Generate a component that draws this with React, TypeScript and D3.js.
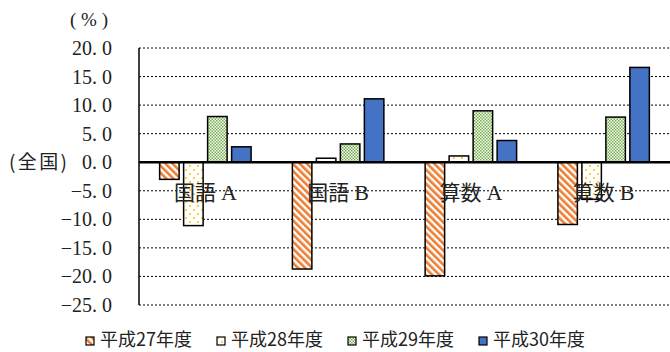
import React from "react";
import * as d3 from "d3";

const categories = ["国語A", "国語B", "算数A", "算数B"];
const seriesNames = ["平成27年度", "平成28年度", "平成29年度", "平成30年度"];
const h27 = [-3.0, -18.7, -19.9, -10.9];
const h28 = [-11.1, 0.7, 1.1, -6.5];
const h29 = [8.0, 3.2, 9.0, 7.9];
const h30 = [2.7, 11.1, 3.8, 16.6];
const yTicks = [20, 15, 10, 5, 0, -5, -10, -15, -20, -25];

const W = 670;
const H = 352;
const left = 139;
const right = 670;
const top = 48;
const bottom = 305;

const SERIF = "'Liberation Serif', 'Times New Roman', serif";
const CJK = "'Noto Sans CJK JP', 'Liberation Serif', serif";

export default function App() {
  const seriesValues = [h27, h28, h29, h30];
  const fills = ["url(#p27)", "url(#p28)", "url(#p29)", "#4472C4"];
  const y = d3.scaleLinear().domain([-25, 20]).range([bottom, top]);
  const x0 = d3.scaleBand<string>().domain(categories).range([left, right]).paddingInner(0).paddingOuter(0);
  const x1 = d3
    .scaleBand<string>()
    .domain(seriesNames)
    .range([0, x0.bandwidth()])
    .paddingInner(0.1875)
    .paddingOuter(0.86);

  const fmt = (v: number) => {
    const s = v.toFixed(1).replace("-", "−");
    return s.replace(".", ". ");
  };

  const legendX = [86, 217, 348, 479];

  return (
    <svg width={W} height={H} style={{ position: "absolute", left: 0, top: 0 }}>
      <defs>
        <pattern id="p27" patternUnits="userSpaceOnUse" width="5" height="5" patternTransform="rotate(-45)">
          <rect width="5" height="5" fill="#fff" />
          <rect width="2.6" height="5" fill="#ED7D31" />
        </pattern>
        <pattern id="p28" patternUnits="userSpaceOnUse" width="8" height="8">
          <rect width="8" height="8" fill="#fff" />
          <circle cx="2" cy="2" r="1" fill="#FFC000" />
          <circle cx="6" cy="6" r="1" fill="#FFC000" />
        </pattern>
        <pattern id="p29" patternUnits="userSpaceOnUse" width="3" height="3">
          <rect width="3" height="3" fill="#fff" />
          <rect width="1.5" height="1.5" fill="#70AD47" />
          <rect x="1.5" y="1.5" width="1.5" height="1.5" fill="#70AD47" />
        </pattern>
      </defs>
      <rect width={W} height={H} fill="#fff" />

      {/* gridlines */}
      {yTicks.map((t) =>
        t === 0 ? null : (
          <line
            key={t}
            x1={left}
            x2={right}
            y1={y(t)}
            y2={y(t)}
            stroke="#000"
            strokeWidth={1}
            strokeDasharray="2,2"
          />
        )
      )}

      {/* y tick labels */}
      {yTicks.map((t) => (
        <text key={"l" + t} x={112} y={y(t) + 7} textAnchor="end" fontSize={20} fill="#222" fontFamily={SERIF}>
          {fmt(t)}
        </text>
      ))}
      <text x={70} y={26} fontSize={19} fill="#222" fontFamily={SERIF} textLength={38} lengthAdjust="spacing">(%)</text>
      <text x={9} y={y(0) + 7} fontSize={19} fill="#222" fontFamily={CJK} textLength={58} lengthAdjust="spacing">
        (全国)
      </text>

      {/* bars */}
      {categories.map((c, ci) => (
        <g key={c}>
          {seriesNames.map((s, si) => {
            const v = seriesValues[si][ci];
            const bx = (x0(c) || 0) + (x1(s) || 0);
            const by = Math.min(y(v), y(0));
            const bh = Math.abs(y(v) - y(0));
            return (
              <rect
                key={s}
                x={bx}
                y={by}
                width={x1.bandwidth()}
                height={bh}
                fill={fills[si]}
                stroke="#000"
                strokeWidth={1.5}
              />
            );
          })}
        </g>
      ))}

      {/* axes */}
      <line x1={left} x2={left} y1={top} y2={bottom} stroke="#000" strokeWidth={1.5} />
      <line x1={left} x2={right} y1={y(0)} y2={y(0)} stroke="#000" strokeWidth={2.5} />

      {/* category labels */}
      {categories.map((c) => (
        <text
          key={"c" + c}
          x={(x0(c) || 0) + x0.bandwidth() / 2}
          y={y(0) + 38}
          textAnchor="middle"
          fontSize={21}
          fill="#222"
          fontFamily={CJK}
        >
          {c.slice(0, 2)}
          <tspan dx={5} fontFamily={SERIF} fontSize={22}>{c.slice(2)}</tspan>
        </text>
      ))}

      {/* legend */}
      {seriesNames.map((s, i) => (
        <g key={"lg" + s}>
          <rect x={legendX[i]} y={337} width={8} height={8} fill={fills[i]} stroke="#000" strokeWidth={1.2} />
          <text x={legendX[i] + 14} y={346} fontSize={18} fill="#222" fontFamily={CJK} textLength={92} lengthAdjust="spacing">
            {s}
          </text>
        </g>
      ))}
    </svg>
  );
}
